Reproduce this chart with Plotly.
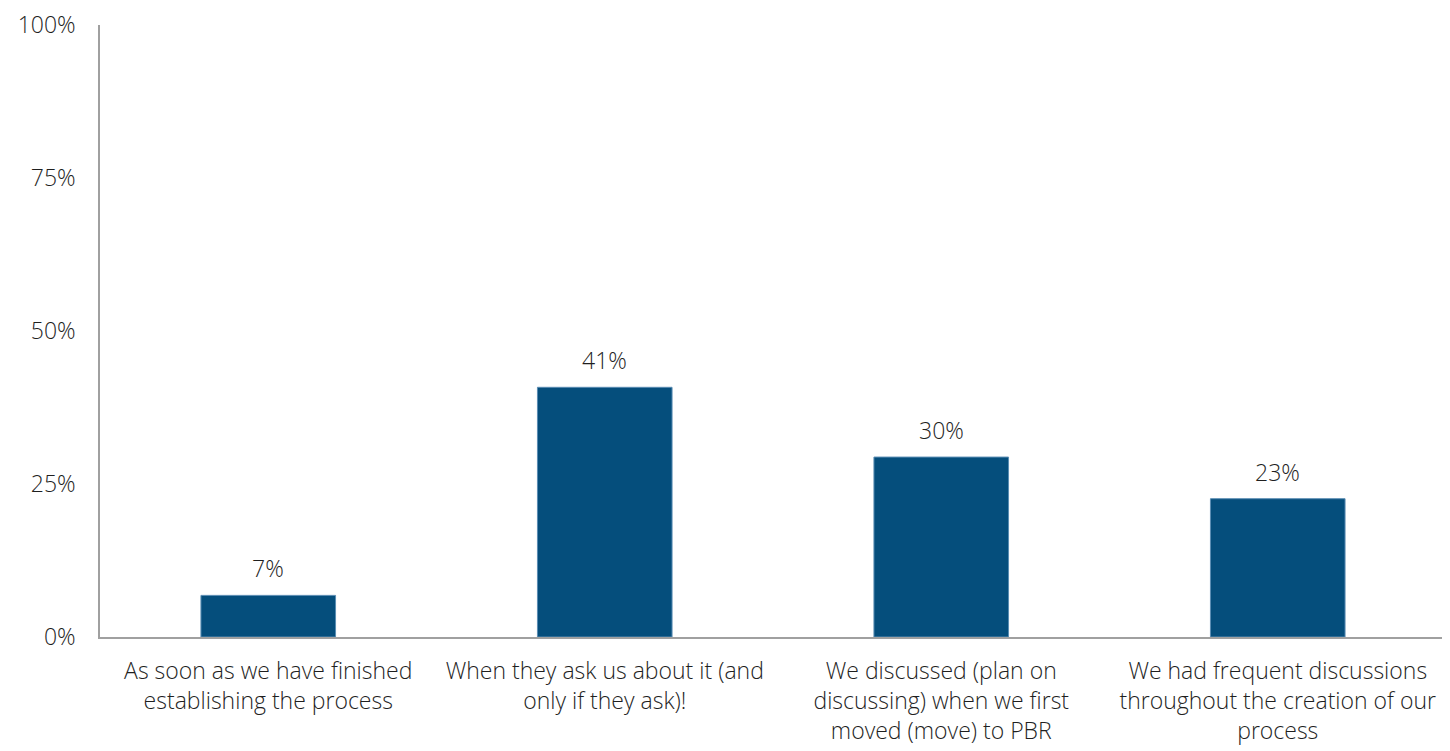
import plotly.graph_objects as go

categories = [
    "As soon as we have finished<br>establishing the process",
    "When they ask us about it (and<br>only if they ask)!",
    "We discussed (plan on<br>discussing) when we first<br>moved (move) to PBR",
    "We had frequent discussions<br>throughout the creation of our<br>process",
]
values = [6.8, 40.8, 29.4, 22.6]
labels = ["7%", "41%", "30%", "23%"]
y_ticks = [0, 25, 50, 75, 100]
y_tick_text = ["0%", "25%", "50%", "75%", "100%"]

FONT = "Open Sans, Lato, sans-serif"
TXT = "#1f1f1f"
FS = 23

fig = go.Figure(
    go.Bar(
        x=categories,
        y=values,
        marker=dict(color="#054E7C", line=dict(color="#5A8DB3", width=1)),
        width=0.4,
    )
)

for c, v, t in zip(categories, values, labels):
    fig.add_annotation(
        x=c, y=v, text=t, showarrow=False, yanchor="bottom", yshift=9,
        font=dict(family=FONT, size=FS, color=TXT, weight=300),
    )

fig.update_layout(
    width=1450,
    height=751,
    margin=dict(l=92, r=12, t=17, b=122),
    plot_bgcolor="white",
    paper_bgcolor="white",
    font=dict(family=FONT, size=FS, color=TXT, weight=300),
    showlegend=False,
)
fig.update_xaxes(
    showline=True, linecolor="#A0A0A0", linewidth=1.5, automargin=False,
    showgrid=False, ticks="", tickangle=0, ticklabelstandoff=13,
    ticklabeloverflow="allow",
    tickfont=dict(family=FONT, size=FS, color=TXT, weight=300),
)
fig.update_yaxes(
    range=[0, 100], tickvals=y_ticks, ticktext=y_tick_text, automargin=False,
    showline=True, linecolor="#A0A0A0", linewidth=1.5,
    showgrid=False, zeroline=False, ticks="", ticklabelstandoff=18,
    ticklabeloverflow="allow",
    tickfont=dict(family=FONT, size=FS, color=TXT, weight=300),
)

fig.write_html("out.html")
